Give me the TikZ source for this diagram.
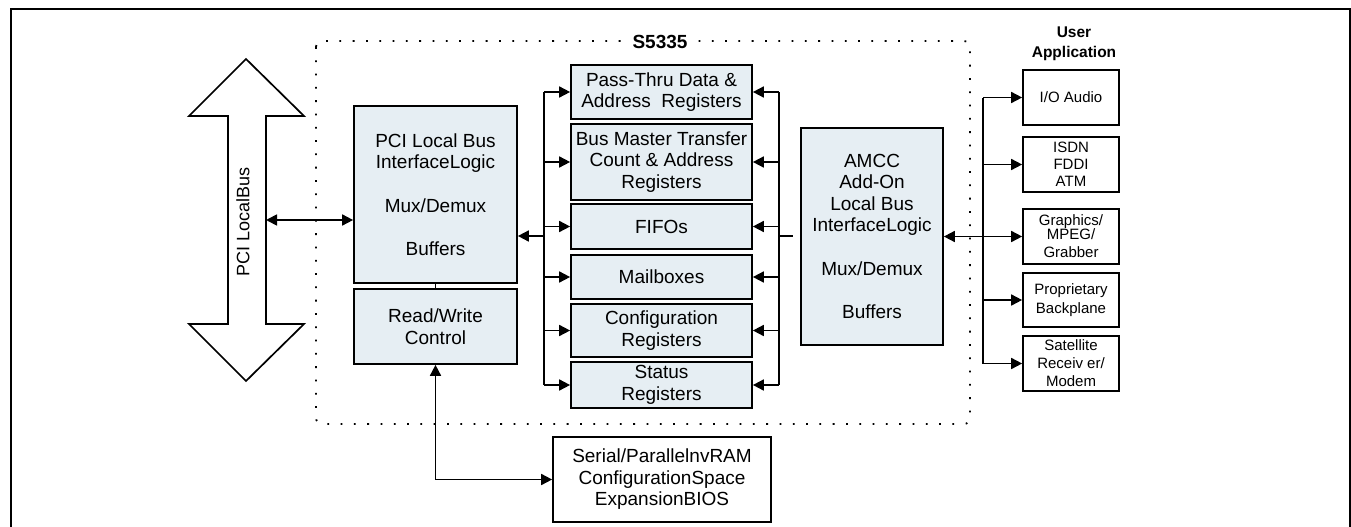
\documentclass[tikz,border=0pt]{standalone}
\usepackage{fontspec}
\setmainfont{Liberation Sans}
\usetikzlibrary{arrows.meta}
\definecolor{boxfill}{RGB}{230,238,243}
\tikzset{
  x=1pt, y=-1pt,
  reg/.style={draw, line width=1.7pt, fill=boxfill, align=center, inner sep=0pt,
    font=\fontsize{19}{21.5}\selectfont},
  ubox/.style={draw, line width=1.7pt, fill=white, align=center, inner sep=0pt,
    minimum width=96pt, font=\fontsize{15}{18.5}\selectfont},
  conn/.style={line width=1.7pt},
  arr/.style={conn, -{Triangle[length=11pt,width=11pt]}},
  darr/.style={conn, {Triangle[length=11pt,width=11pt]}-{Triangle[length=11pt,width=11pt]}},
}
\begin{document}
\begin{tikzpicture}
\useasboundingbox (0,0) rectangle (1351,527);
% outer frame
\draw[line width=2.6pt] (11,530) -- (11,9) -- (1350,9) -- (1350,530);
% chip boundary
\draw[line width=1.8pt, dash pattern=on 1.8pt off 11.5pt, rounded corners=6pt] (316,41) rectangle (970,424);
\node[fill=white, inner xsep=11pt, inner ysep=1pt, font=\bfseries\fontsize{19}{20}\selectfont] (chip) at (660,42) {S5335};
% PCI local bus arrow
\draw[line width=1.7pt, fill=white] (246,59) -- (304,116) -- (266,116) -- (266,324) -- (304,324) -- (246,381)
  -- (189,324) -- (228,324) -- (228,116) -- (189,116) -- cycle;
\node[rotate=90, font=\fontsize{18}{20}\selectfont] (buslbl) at (243,222) {PCI LocalBus};
\coordinate (busR) at (266,220);
% left blocks
\node[reg, minimum width=163pt, minimum height=177pt] (pci) at (435.5,194.5)
  {PCI Local Bus\\InterfaceLogic\\[22pt]Mux/Demux\\[22pt]Buffers};
\node[reg, minimum width=163pt, minimum height=75pt] (rw) at (435.5,326.5) {Read/Write\\Control};
\node[reg, fill=white, minimum width=218pt, minimum height=85pt] (ser) at (662,479.5)
  {Serial/ParallelnvRAM\\ConfigurationSpace\\ExpansionBIOS};
% registers
\node[reg, minimum width=181pt, minimum height=54pt] (pt) at (661.5,92) {Pass-Thru Data \&\\Address\ \ Registers};
\node[reg, minimum width=181pt, minimum height=76pt] (bm) at (661.5,162) {Bus Master Transfer\\Count \& Address\\Registers};
\node[reg, minimum width=181pt, minimum height=45pt] (ff) at (661.5,226.5) {FIFOs};
\node[reg, minimum width=181pt, minimum height=44pt] (mb) at (661.5,277) {Mailboxes};
\node[reg, minimum width=181pt, minimum height=53pt] (cf) at (661.5,330.5) {Configuration\\Registers};
\node[reg, minimum width=181pt, minimum height=46pt] (st) at (661.5,385) {Status\\Registers};
% AMCC
\node[reg, minimum width=142pt, minimum height=217pt] (amcc) at (872,236.5)
  {AMCC\\Add-On\\Local Bus\\InterfaceLogic\\[22pt]Mux/Demux\\[22pt]Buffers};
% user application
\node[align=center, font=\bfseries\fontsize{15.5}{20}\selectfont] (ua) at (1074,44) {User\\Application};
\node[ubox, minimum height=55pt] (io) at (1071,97.5) {I/O Audio};
\node[ubox, minimum height=55pt] (isdn) at (1071,164.5) {ISDN\\[-1.5pt]FDDI\\[-1.5pt]ATM};
\node[ubox, minimum height=55pt] (gr) at (1071,236.5) {Graphics/\\[-5pt]MPEG/\\[0pt]Grabber};
\node[ubox, minimum height=54pt] (pr) at (1071,300) {Proprietary\\Backplane};
\node[ubox, minimum height=55pt] (sat) at (1071,363.5) {Satellite\\[-0.5pt]Receiv er/\\[-0.5pt]Modem};
% bus coordinates
\coordinate (lb) at (544,0);
\coordinate (rb) at (779,0);
\coordinate (ub) at (983,0);
\coordinate (j1) at (544,236);
\coordinate (j2) at (779,236);
\coordinate (stub) at (793,236);
% connectors
\draw[darr] (busR) -- (busR -| pci.west);
\draw[conn] (pci.south) -- (rw.north);
\draw[darr] (rw.south) |- (ser.west);
\draw[conn] (pt.west -| lb) -- (st.west -| lb);
\foreach \n in {pt,bm,ff,mb,cf,st} \draw[arr] (\n.west -| lb) -- (\n.west);
\draw[arr] (j1) -- (j1 -| pci.east);
\draw[conn] (pt.east -| rb) -- (st.east -| rb);
\foreach \n in {pt,bm,ff,mb,cf,st} \draw[arr] (\n.east -| rb) -- (\n.east);
\draw[conn] (j2) -- (stub);
\draw[darr] (amcc.east) -- (gr.west);
\draw[conn] (io.west -| ub) -- (sat.west -| ub);
\foreach \n in {io,isdn,pr,sat} \draw[arr] (\n.west -| ub) -- (\n.west);
\end{tikzpicture}
\end{document}
